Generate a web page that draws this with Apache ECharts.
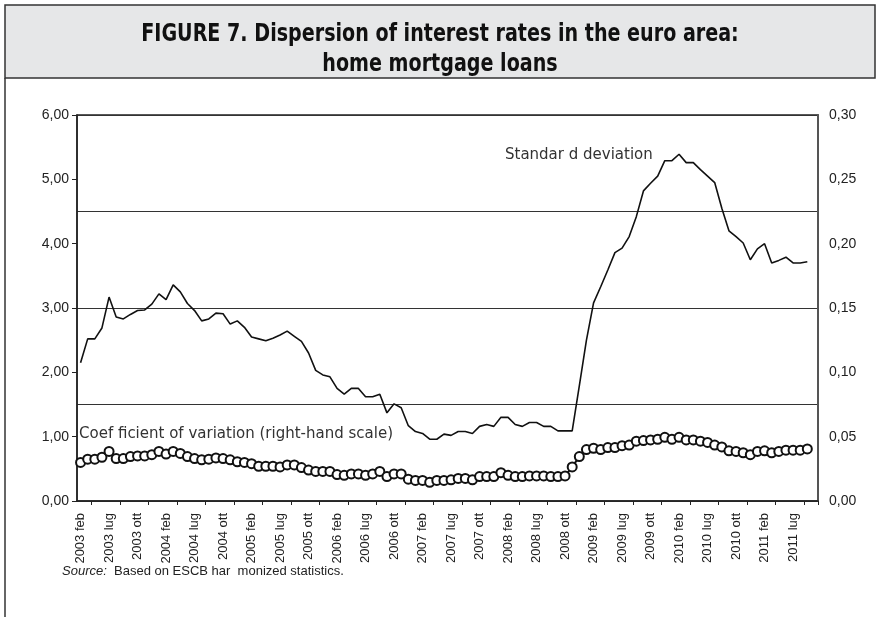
<!DOCTYPE html>
<html>
<head>
<meta charset="utf-8">
<script src="https://cdn.jsdelivr.net/npm/echarts@6/dist/echarts.min.js"></script>
<style>
  html, body { margin: 0; padding: 0; background: #fff; }
  #chart { width: 880px; height: 617px; }
</style>
</head>
<body>
<div id="chart"></div>
<script>
// tick labels shown every 4th month (as printed in the source figure)
const tickLabels = [
  '2003 feb', '2003 lug', '2003 ott', '2004 feb', '2004 lug', '2004 ott',
  '2005 feb', '2005 lug', '2005 ott', '2006 feb', '2006 lug', '2006 ott',
  '2007 feb', '2007 lug', '2007 ott', '2008 feb', '2008 lug', '2008 ott',
  '2009 feb', '2009 lug', '2009 ott', '2010 feb', '2010 lug', '2010 ott',
  '2011 feb', '2011 lug'
];
const monthCount = 104;

// standard deviation (left scale)
const stdDev = [
  2.15, 2.52, 2.52, 2.69, 3.17, 2.86, 2.83, 2.90, 2.96, 2.97,
  3.06, 3.22, 3.13, 3.36, 3.25, 3.07, 2.96, 2.80, 2.83, 2.92,
  2.91, 2.75, 2.80, 2.70, 2.55, 2.52, 2.49, 2.53, 2.58, 2.64,
  2.56, 2.48, 2.30, 2.03, 1.96, 1.93, 1.75, 1.66, 1.75, 1.75,
  1.62, 1.62, 1.66, 1.37, 1.51, 1.45, 1.17, 1.08, 1.05, 0.96,
  0.96, 1.04, 1.02, 1.08, 1.08, 1.05, 1.16, 1.19, 1.16, 1.30,
  1.30, 1.19, 1.16, 1.22, 1.22, 1.16, 1.16, 1.09, 1.09, 1.09,
  1.79, 2.50, 3.08, 3.33, 3.59, 3.86, 3.93, 4.11, 4.42, 4.82,
  4.94, 5.05, 5.29, 5.29, 5.39, 5.26, 5.26, 5.15, 5.05, 4.95,
  4.55, 4.20, 4.11, 4.01, 3.75, 3.92, 4.00, 3.70, 3.74, 3.79,
  3.70, 3.70, 3.72
];

// coefficient of variation (right scale)
const coefVar = [
  0.0300, 0.0325, 0.0325, 0.0340, 0.0385, 0.0330, 0.0330, 0.0345, 0.0350, 0.0350,
  0.0360, 0.0385, 0.0365, 0.0385, 0.0370, 0.0345, 0.0330, 0.0320, 0.0325, 0.0335,
  0.0330, 0.0320, 0.0305, 0.0300, 0.0290, 0.0270, 0.0270, 0.0270, 0.0265, 0.0280,
  0.0280, 0.0260, 0.0240, 0.0230, 0.0230, 0.0230, 0.0205, 0.0200, 0.0210, 0.0210,
  0.0200, 0.0210, 0.0230, 0.0190, 0.0210, 0.0210, 0.0170, 0.0160, 0.0160, 0.0145,
  0.0160, 0.0160, 0.0165, 0.0175, 0.0175, 0.0165, 0.0190, 0.0190, 0.0190, 0.0220,
  0.0200, 0.0190, 0.0190, 0.0195, 0.0195, 0.0195, 0.0190, 0.0190, 0.0195, 0.0265,
  0.0345, 0.0400, 0.0410, 0.0400, 0.0415, 0.0415, 0.0430, 0.0435, 0.0465, 0.0470,
  0.0475, 0.0480, 0.0495, 0.0480, 0.0495, 0.0475, 0.0475, 0.0465, 0.0455, 0.0435,
  0.0420, 0.0390, 0.0385, 0.0375, 0.0360, 0.0385, 0.0390, 0.0375, 0.0385, 0.0395,
  0.0395, 0.0395, 0.0405
];

const months = Array.from({length: monthCount}, (_, i) => 'm' + i);
const comma = (v, d) => v.toFixed(d).replace('.', ',');
const axisFont = "'Liberation Sans', Arial, sans-serif";
const noteFont = "'DejaVu Sans', Verdana, sans-serif";
const titleFont = "bold 25px 'Liberation Sans Narrow', 'DejaVu Sans Condensed', sans-serif";

const chart = echarts.init(document.getElementById('chart'));

const option = {
  animation: false,
  backgroundColor: '#fff',
  grid: {
    left: 77, right: 62, top: 115, bottom: 116,
    show: true, borderColor: '#222', borderWidth: 1.5
  },
  graphic: [
    {
      type: 'rect', shape: {x: 5, y: 5, width: 870, height: 73},
      style: {fill: '#e6e7e8', stroke: '#333', lineWidth: 1.5}, z: 0
    },
    {
      type: 'line', shape: {x1: 5, y1: 78, x2: 5, y2: 617},
      style: {stroke: '#333', lineWidth: 1.5}
    },
    {
      type: 'text', x: 440, y: 34, scaleX: 0.85,
      style: {
        text: 'FIGURE 7. Dispersion of interest rates in the euro area:',
        font: titleFont, fill: '#111', align: 'center', verticalAlign: 'middle'
      }
    },
    {
      type: 'text', x: 440, y: 64, scaleX: 0.85,
      style: {
        text: 'home mortgage loans',
        font: titleFont, fill: '#111', align: 'center', verticalAlign: 'middle'
      }
    },
    {
      type: 'text', x: 505, y: 155,
      style: {
        text: 'Standar d deviation', font: '15px ' + noteFont,
        fill: '#333', verticalAlign: 'middle'
      }
    },
    {
      type: 'text', x: 79, y: 434,
      style: {
        text: 'Coef ficient of variation (right-hand scale)', font: '15px ' + noteFont,
        fill: '#333', verticalAlign: 'middle'
      }
    },
    {
      type: 'text', x: 62, y: 571,
      style: {
        text: '{i|Source:}  Based on ESCB har  monized statistics.',
        font: '13px ' + axisFont, fill: '#222', verticalAlign: 'middle',
        rich: {i: {fontStyle: 'italic', font: 'italic 13px ' + axisFont, fill: '#222'}}
      }
    }
  ],
  xAxis: {
    type: 'category',
    data: months,
    boundaryGap: true,
    axisLine: {lineStyle: {color: '#222', width: 1.5}},
    axisTick: {
      show: true, length: 4, interval: (i) => i % 4 === 2,
      lineStyle: {color: '#222'}
    },
    axisLabel: {
      interval: (i) => i % 4 === 0,
      rotate: 90, margin: 12,
      formatter: (v, i) => tickLabels[Math.round(i / 4)] || '',
      fontFamily: axisFont, fontSize: 13, color: '#222'
    },
    splitLine: {show: false}
  },
  yAxis: [
    {
      type: 'value', min: 0, max: 6, interval: 1, position: 'left',
      axisLine: {show: true, lineStyle: {color: '#222', width: 1.5}},
      axisTick: {show: true, length: 5, lineStyle: {color: '#222'}},
      axisLabel: {
        formatter: (v) => comma(v, 2), margin: 8,
        fontFamily: axisFont, fontSize: 14, color: '#222'
      },
      splitLine: {show: false}
    },
    {
      type: 'value', min: 0, max: 0.3, interval: 0.05, position: 'right',
      axisLine: {show: true, lineStyle: {color: '#555', width: 2}},
      axisTick: {show: false},
      axisLabel: {
        formatter: (v) => comma(v, 2), margin: 11,
        fontFamily: axisFont, fontSize: 14, color: '#222'
      },
      splitLine: {show: false}
    },
    {
      // horizontal guide lines only
      type: 'value', min: 0, max: 6, interval: 1.5, position: 'left',
      axisLine: {show: false}, axisTick: {show: false}, axisLabel: {show: false},
      splitLine: {show: true, lineStyle: {color: '#333', width: 1.2}}
    }
  ],
  series: [
    {
      name: 'Standard deviation',
      type: 'line',
      yAxisIndex: 0,
      data: stdDev,
      showSymbol: false,
      lineStyle: {color: '#111', width: 1.6},
      z: 3
    },
    {
      name: 'Coefficient of variation',
      type: 'line',
      yAxisIndex: 1,
      data: coefVar,
      symbol: 'circle',
      symbolSize: 9,
      showAllSymbol: true,
      itemStyle: {color: '#fff', borderColor: '#111', borderWidth: 2},
      lineStyle: {color: '#111', width: 2},
      z: 4
    }
  ]
};

chart.setOption(option);
</script>
</body>
</html>
